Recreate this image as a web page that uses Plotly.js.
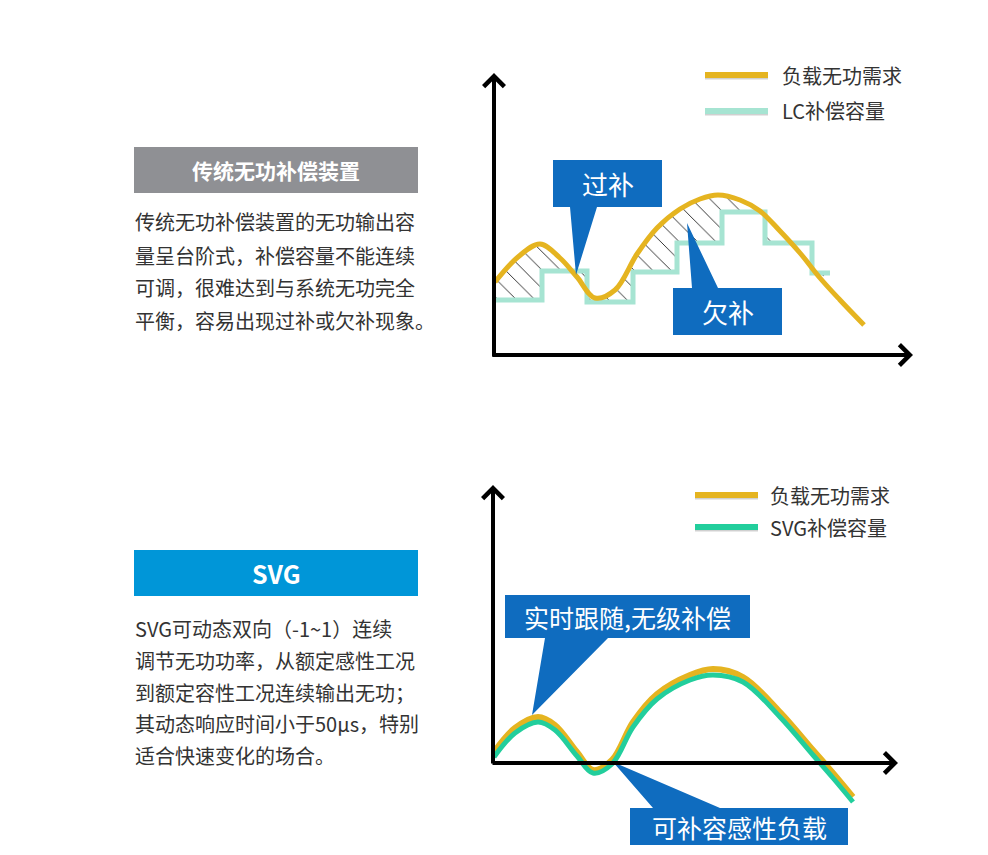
<!DOCTYPE html>
<html>
<head>
<meta charset="utf-8">
<script src="https://cdn.plot.ly/plotly-3.0.1.min.js"></script>
<style>html,body{margin:0;padding:0;background:#fff;}#chart{width:988px;height:855px;}</style>
</head>
<body>
<div id="chart"></div>
<script>
// ---- data (arbitrary units) ----
const topTime   = [1, 24, 46, 66, 83, 101, 121, 143, 163, 186, 206, 224, 246, 266, 286, 306, 326, 346, 370];
const topDemand = [73, 98, 111, 97, 78, 57, 65, 101, 127, 146, 156, 160, 155, 144, 124, 102, 77, 55, 30];
const lcStepTime = [1, 48, 93, 139, 183, 228, 271, 318, 336];
const lcStepCap  = [55, 84, 53, 83, 112, 143, 112, 82, 82];

const botTime   = [1, 22, 45, 62, 84, 100, 119, 140, 164, 197, 220, 250, 287, 320, 340, 360];
const botDemand = [11, 35, 46, 38, 11, -7, 3, 41, 69, 88, 94, 86, 51, 13, -10, -34];
const svgCap    = [6, 30, 41, 33, 7, -10, -1, 36, 64, 83, 88, 81, 46, 8, -15, -39];

const seriesNames = ['负载无功需求', 'LC补偿容量', 'SVG补偿容量'];
const calloutTexts = ['过补', '欠补', '实时跟随,无级补偿', '可补容感性负载'];
const lcTitle = '传统无功补偿装置';
const lcLines = ['传统无功补偿装置的无功输出容', '量呈台阶式，补偿容量不能连续', '可调，很难达到与系统无功完全', '平衡，容易出现过补或欠补现象。'];
const svgTitle = 'SVG';
const svgLines = ['SVG可动态双向（-1~1）连续', '调节无功功率，从额定感性工况', '到额定容性工况连续输出无功；', '其动态响应时间小于50μs，特别', '适合快速变化的场合。'];

// ---- styling ----
const W = 988, H = 855;
const PX = x => x / W, PY = y => 1 - y / H;
const FONT = '"Noto Sans CJK SC", "Noto Sans", sans-serif';
const YELLOW = '#E5B420', MINT = '#A6E4D2', GREEN = '#22CE9C', BLUE = '#0F6CBF';

const fillN = 17;
const traces = [
  {x: lcStepTime, y: lcStepCap, xaxis: 'x', yaxis: 'y', mode: 'lines', name: seriesNames[1],
   line: {shape: 'hv', color: MINT, width: 5}, hoverinfo: 'skip'},
  {x: topTime.slice(0, fillN), y: topDemand.slice(0, fillN), xaxis: 'x', yaxis: 'y', mode: 'lines',
   line: {shape: 'spline', width: 0, color: 'rgba(0,0,0,0)'}, fill: 'tonexty', fillcolor: 'rgba(0,0,0,0)',
   fillpattern: {shape: '\\', fgcolor: '#222', bgcolor: 'rgba(0,0,0,0)', size: 13, solidity: 0.07, fillmode: 'replace'},
   hoverinfo: 'skip', showlegend: false},
  {x: topTime, y: topDemand, xaxis: 'x', yaxis: 'y', mode: 'lines', name: seriesNames[0],
   line: {shape: 'spline', color: YELLOW, width: 5}},
  {x: botTime, y: botDemand, xaxis: 'x2', yaxis: 'y2', mode: 'lines', name: seriesNames[0],
   line: {shape: 'spline', color: YELLOW, width: 6}},
  {x: botTime, y: svgCap, xaxis: 'x2', yaxis: 'y2', mode: 'lines', name: seriesNames[2],
   line: {shape: 'spline', color: GREEN, width: 5}}
];

// axes mapped 1 unit = 1 px; origin of top chart at (494,355), bottom at (493,763)
const topX = {o: 494, r: [-10, 430]}, topY = {o: 355, r: [-15, 290]};
const botX = {o: 493, r: [-10, 420]}, botY = {o: 763, r: [-90, 290]};
const xdom = a => [PX(a.o + a.r[0]), PX(a.o + a.r[1])];
const ydom = a => [PY(a.o - a.r[0]), PY(a.o - a.r[1])];
const hidden = {visible: false, fixedrange: true, showgrid: false, zeroline: false};

const shapes = [];
const annotations = [];

// left panel boxes
shapes.push({type: 'rect', xref: 'paper', yref: 'paper', x0: PX(134), x1: PX(418), y0: PY(193), y1: PY(147), fillcolor: '#8F9094', line: {width: 0}});
shapes.push({type: 'rect', xref: 'paper', yref: 'paper', x0: PX(134), x1: PX(418), y0: PY(596), y1: PY(550), fillcolor: '#0096D8', line: {width: 0}});
annotations.push({xref: 'paper', yref: 'paper', x: PX(276), y: PY(170), xanchor: 'center', yanchor: 'middle', text: '<b>' + lcTitle + '</b>', showarrow: false, font: {family: FONT, size: 21, color: '#fff'}});
annotations.push({xref: 'paper', yref: 'paper', x: PX(276), y: PY(573), xanchor: 'center', yanchor: 'middle', text: '<b>' + svgTitle + '</b>', showarrow: false, font: {family: FONT, size: 25, color: '#fff'}});
const lcY = [222, 255, 287, 320];
lcLines.forEach((t, i) => annotations.push({xref: 'paper', yref: 'paper', x: PX(133), y: PY(lcY[i]), xanchor: 'left', yanchor: 'middle', text: t, showarrow: false, font: {family: FONT, size: 20, color: '#333'}}));
const svgY = [628, 660, 692, 723, 755];
svgLines.forEach((t, i) => annotations.push({xref: 'paper', yref: 'paper', x: PX(133), y: PY(svgY[i]), xanchor: 'left', yanchor: 'middle', text: t, showarrow: false, font: {family: FONT, size: 20, color: '#333'}}));

// legends
function legendRow(x0, x1, tx, y, color, label) {
  shapes.push({type: 'line', xref: 'paper', yref: 'paper', x0: PX(x0), x1: PX(x1), y0: PY(y + 2), y1: PY(y + 2), line: {color: 'rgba(120,120,120,0.35)', width: 5}});
  shapes.push({type: 'line', xref: 'paper', yref: 'paper', x0: PX(x0), x1: PX(x1), y0: PY(y), y1: PY(y), line: {color: color, width: 6}});
  annotations.push({xref: 'paper', yref: 'paper', x: PX(tx), y: PY(y), xanchor: 'left', yanchor: 'middle', text: label, showarrow: false, font: {family: FONT, size: 20, color: '#333'}});
}
legendRow(705, 768, 780, 75, YELLOW, seriesNames[0]);
legendRow(705, 768, 780, 111, MINT, seriesNames[1]);
legendRow(695, 758, 768, 495, YELLOW, seriesNames[0]);
legendRow(695, 758, 768, 527, GREEN, seriesNames[2]);

// axis arrows
function arrow(xr, yr, x, y, ax, ay) {
  annotations.push({xref: xr, yref: yr, axref: xr, ayref: yr, x: x, y: y, ax: ax, ay: ay, text: '', showarrow: true,
    arrowhead: 4, arrowsize: 1, arrowwidth: 4, arrowcolor: '#000', standoff: 0});
}
arrow('x', 'y', 419, 0, -3, 0);
arrow('x', 'y', 0, 282, 0, -3);
arrow('x2', 'y2', 405, 0, -2, 0);
arrow('x2', 'y2', 0, 278, 0, -2);

// callouts
function callout(xr, yr, path) {
  shapes.push({type: 'path', xref: xr, yref: yr, path: path, fillcolor: BLUE, line: {width: 0}, layer: 'above'});
}
callout('x', 'y', 'M59,195 L168,195 L168,148 L103,148 L82,80 L76,148 L59,148 Z');
callout('x', 'y', 'M179,67 L198,67 L193,132 L224,67 L288,67 L288,20 L179,20 Z');
callout('x2', 'y2', 'M12,168 L257,168 L257,125 L115,125 L39,48 L52,125 L12,125 Z');
callout('x2', 'y2', 'M137,-45 L160,-45 L120,1 L227,-45 L355,-45 L355,-82 L137,-82 Z');
annotations.push({xref: 'x', yref: 'y', x: 113.5, y: 171.5, text: calloutTexts[0], showarrow: false, font: {family: FONT, size: 26, color: '#fff'}});
annotations.push({xref: 'x', yref: 'y', x: 233.5, y: 43.5, text: calloutTexts[1], showarrow: false, font: {family: FONT, size: 26, color: '#fff'}});
annotations.push({xref: 'x2', yref: 'y2', x: 134.5, y: 146.5, text: calloutTexts[2], showarrow: false, font: {family: FONT, size: 25, color: '#fff'}});
annotations.push({xref: 'x2', yref: 'y2', x: 246, y: -63.5, text: calloutTexts[3], showarrow: false, font: {family: FONT, size: 25, color: '#fff'}});

const layout = {
  width: W, height: H, margin: {l: 0, r: 0, t: 0, b: 0},
  paper_bgcolor: '#fff', plot_bgcolor: 'rgba(0,0,0,0)', showlegend: false,
  xaxis: Object.assign({domain: xdom(topX), range: topX.r, anchor: 'y'}, hidden),
  yaxis: Object.assign({domain: ydom(topY), range: topY.r, anchor: 'x'}, hidden),
  xaxis2: Object.assign({domain: xdom(botX), range: botX.r, anchor: 'y2'}, hidden),
  yaxis2: Object.assign({domain: ydom(botY), range: botY.r, anchor: 'x2'}, hidden),
  shapes: shapes, annotations: annotations, hovermode: false
};
Plotly.newPlot('chart', traces, layout, {staticPlot: true, displayModeBar: false});
</script>
</body>
</html>
